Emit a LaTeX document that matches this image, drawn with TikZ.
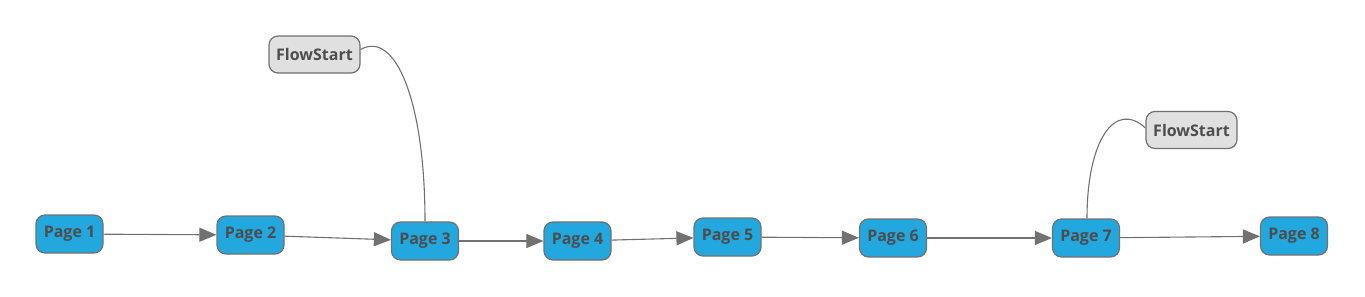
\documentclass[tikz,border=0pt]{standalone}
\usepackage{fontspec}
\setmainfont{Open Sans}
\usetikzlibrary{arrows.meta, positioning}
\definecolor{pageblue}{HTML}{22A8DE}
\definecolor{startgray}{HTML}{E0E0E0}
\definecolor{edgegray}{HTML}{717171}
\definecolor{textgray}{HTML}{4D4D4D}
\tikzset{
    pagebox/.style={draw=edgegray, fill=pageblue, rounded corners=9pt, line width=1.2pt,
        minimum width=67pt, minimum height=38pt, inner sep=0pt,
        text=textgray, font=\fontsize{16}{18}\selectfont\bfseries},
    startbox/.style={pagebox, fill=startgray, minimum width=91pt, minimum height=37pt},
    flow/.style={draw=edgegray, line width=1.1pt, -{Triangle[length=17pt,width=14pt]}},
    link/.style={draw=edgegray, line width=1.1pt}
}
\begin{document}
\begin{tikzpicture}[x=1pt, y=-1pt]
\useasboundingbox (0,0) rectangle (1365,297);
\node[pagebox] (p1) at (69.5,234) {Page 1};
\node[pagebox] (p2) at (250.5,235) {Page 2};
\node[pagebox] (p3) at (425,241) {Page 3};
\node[pagebox] (p4) at (577.5,241) {Page 4};
\node[pagebox] (p5) at (727.5,237) {Page 5};
\node[pagebox] (p6) at (893,238) {Page 6};
\node[pagebox] (p7) at (1086,238) {Page 7};
\node[pagebox] (p8) at (1294,236) {Page 8};
\node[startbox] (fs1) at (314.5,54.5) {FlowStart};
\node[startbox] (fs2) at (1191.5,130) {FlowStart};
\foreach \a/\b in {p1/p2,p2/p3,p3/p4,p4/p5,p5/p6,p6/p7,p7/p8} {
    \draw[flow] (\a) -- (\b);
}
\draw[link] (fs1.east) ++(0,-5) .. controls (395,30) and (425,100) .. (p3.north);
\draw[link] (fs2.west) ++(0,-2) .. controls (1115,100) and (1087,140) .. (p7.north -| 1087,0);
\end{tikzpicture}
\end{document}
